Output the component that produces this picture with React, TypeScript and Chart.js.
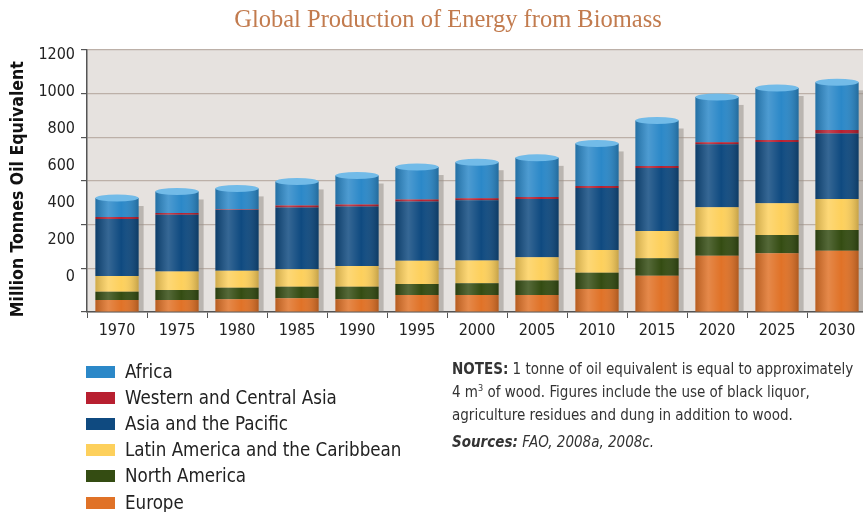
import React, { useEffect, useRef } from "react";
import { Chart, registerables } from "chart.js";

Chart.register(...registerables);

const years = ["1970", "1975", "1980", "1985", "1990", "1995", "2000", "2005", "2010", "2015", "2020", "2025", "2030"];
const europe = [55, 55, 58, 63, 58, 78, 78, 78, 105, 166, 258, 269, 281];
const northAmerica = [38, 46, 53, 53, 58, 50, 54, 66, 75, 80, 87, 84, 95];
const latinAmerica = [72, 84, 78, 80, 95, 107, 104, 107, 104, 125, 135, 145, 141];
const asiaPacific = [261, 260, 278, 283, 272, 271, 276, 267, 284, 289, 288, 281, 301];
const westernCentralAsia = [9, 9, 3, 9, 9, 9, 9, 9, 9, 9, 9, 9, 16];
const africa = [87, 98, 96, 110, 133, 149, 165, 179, 195, 208, 208, 238, 218];

const seriesNames = ["Europe", "North America", "Latin America and the Caribbean", "Asia and the Pacific", "Western and Central Asia", "Africa"];
const seriesValues = [europe, northAmerica, latinAmerica, asiaPacific, westernCentralAsia, africa];
const palette = ["#e07227", "#344c12", "#fdd05c", "#0f4a80", "#b81f30", "#2b88c8"];

const yTickValues = [0, 200, 400, 600, 800, 1000, 1200];
const yTickLabels = ["0", "200", "400", "600", "800", "1000", "1200"];

const NARROW = "'Liberation Sans Narrow', 'DejaVu Sans Condensed', 'Arial Narrow', sans-serif";

const shadowPlugin = {
  id: "cylShadow",
  beforeDraw(chart: any) {
    const { ctx, chartArea } = chart;
    ctx.save();
    ctx.fillStyle = "#e6e2df";
    ctx.fillRect(chartArea.left, chartArea.top, chartArea.right - chartArea.left, chartArea.bottom - chartArea.top);
    ctx.restore();
  },
  beforeDatasetsDraw(chart: any) {
    const { ctx } = chart;
    const last = chart.data.datasets.length - 1;
    const metaTop = chart.getDatasetMeta(last);
    const metaBase = chart.getDatasetMeta(0);
    ctx.save();
    ctx.fillStyle = "rgba(150,143,137,0.55)";
    metaTop.data.forEach((el: any, i: number) => {
      const base = metaBase.data[i].base;
      const w = el.width;
      ctx.fillRect(el.x - w / 2 + 5, el.y + 8, w, base - el.y - 8);
    });
    ctx.restore();
  },
  afterDatasetsDraw(chart: any) {
    const { ctx } = chart;
    const last = chart.data.datasets.length - 1;
    const metaTop = chart.getDatasetMeta(last);
    const metaBase = chart.getDatasetMeta(0);
    ctx.save();
    metaTop.data.forEach((el: any, i: number) => {
      const base = metaBase.data[i].base;
      const w = el.width;
      const l = el.x - w / 2;
      const g = ctx.createLinearGradient(l, 0, l + w, 0);
      g.addColorStop(0, "rgba(0,0,0,0.18)");
      g.addColorStop(0.3, "rgba(255,255,255,0.16)");
      g.addColorStop(0.6, "rgba(255,255,255,0)");
      g.addColorStop(1, "rgba(0,0,0,0.22)");
      ctx.fillStyle = g;
      ctx.fillRect(l, el.y, w, base - el.y);
      ctx.beginPath();
      ctx.ellipse(el.x, el.y, w / 2, 3.5, 0, 0, Math.PI * 2);
      ctx.fillStyle = "#72bbe8";
      ctx.fill();
    });
    ctx.restore();
  },
};

export default function App() {
  const ref = useRef<HTMLCanvasElement | null>(null);

  useEffect(() => {
    document.body.style.margin = "0";
    document.body.style.overflow = "hidden";
    if (!ref.current) return;
    const chart = new Chart(ref.current, {
      type: "bar",
      data: {
        labels: years,
        datasets: seriesNames.map((name, i) => ({
          label: name,
          data: seriesValues[i],
          backgroundColor: palette[i],
          borderWidth: 0,
          categoryPercentage: 1,
          barPercentage: 0.72,
        })),
      },
      options: {
        animation: false,
        responsive: false,
        layout: { padding: { left: 0, right: 0, top: 50, bottom: 170 } },
        plugins: {
          legend: { display: false },
          tooltip: { enabled: false },
          title: { display: false },
        },
        scales: {
          x: {
            stacked: true,
            offset: true,
            grid: { display: true, drawOnChartArea: false, offset: true, tickLength: 6, color: "#555" },
            border: { color: "#555", width: 1.5 },
            ticks: { color: "#222", font: { family: NARROW, size: 16 }, padding: 3 },
            afterFit: (axis: any) => {
              axis.height = 30;
            },
          },
          y: {
            stacked: true,
            min: 0,
            max: 1200,
            weight: 0,
            ticks: { display: false, stepSize: 200 },
            grid: { color: "#bcb0a8", tickColor: "#555", tickLength: 6, lineWidth: 1.2 },
            border: { color: "#555", width: 1.5 },
            afterFit: (axis: any) => {
              axis.width = 7;
            },
          },
          yl: {
            type: "linear",
            position: "left",
            weight: 1,
            min: -189,
            max: 1227,
            grid: { display: false, drawTicks: false },
            border: { display: false },
            afterBuildTicks: (axis: any) => {
              axis.ticks = yTickValues.map((v) => ({ value: v }));
            },
            ticks: {
              color: "#222",
              font: { family: NARROW, size: 16 },
              padding: 5,
              callback: (value: any) => {
                const idx = yTickValues.indexOf(Number(value));
                return idx >= 0 ? yTickLabels[idx] : "";
              },
            },
            title: {
              display: true,
              text: "Million Tonnes Oil Equivalent   ",
              color: "#111",
              font: { family: NARROW, size: 17.5, weight: "bold" },
              padding: { top: 8, bottom: 0 },
            },
            afterFit: (axis: any) => {
              axis.width = 80;
            },
          },
        },
      },
      plugins: [shadowPlugin],
    } as any);
    return () => chart.destroy();
  }, []);

  const legendOrder = seriesNames.map((n, i) => ({ name: n, color: palette[i] })).reverse();

  return (
    <div style={{ position: "relative", width: 863, height: 512, overflow: "hidden", background: "#fff" }}>
      <canvas ref={ref} width={867} height={512} style={{ position: "absolute", left: 0, top: 0 }} />
      <div
        style={{
          position: "absolute",
          left: 48,
          width: 800,
          top: 4,
          textAlign: "center",
          fontFamily: "'Liberation Serif', 'Times New Roman', serif",
          fontSize: 24.5,
          lineHeight: "30px",
          color: "#c27b4e",
          whiteSpace: "nowrap",
        }}
      >
        Global Production of Energy from Biomass
      </div>
      <div style={{ position: "absolute", left: 86, top: 358.6, fontFamily: NARROW, fontSize: 18.6, color: "#222" }}>
        {legendOrder.map((item) => (
          <div key={item.name} style={{ display: "flex", alignItems: "center", height: 26.2 }}>
            <span style={{ display: "inline-block", width: 29, height: 12, background: item.color, marginRight: 10 }} />
            <span style={{ lineHeight: "26px", whiteSpace: "nowrap" }}>{item.name}</span>
          </div>
        ))}
      </div>
      <div
        style={{
          position: "absolute",
          left: 452,
          top: 357.5,
          fontFamily: NARROW,
          fontSize: 15,
          color: "#333",
          lineHeight: "23px",
          whiteSpace: "nowrap",
        }}
      >
        <div>
          <b>NOTES:</b> 1 tonne of oil equivalent is equal to approximately
        </div>
        <div>
          4 m<sup style={{ fontSize: 9, lineHeight: 0 }}>3</sup> of wood. Figures include the use of black liquor,
        </div>
        <div>agriculture residues and dung in addition to wood.</div>
        <div style={{ marginTop: 4, fontStyle: "italic" }}>
          <b>Sources:</b> FAO, 2008a, 2008c.
        </div>
      </div>
    </div>
  );
}
